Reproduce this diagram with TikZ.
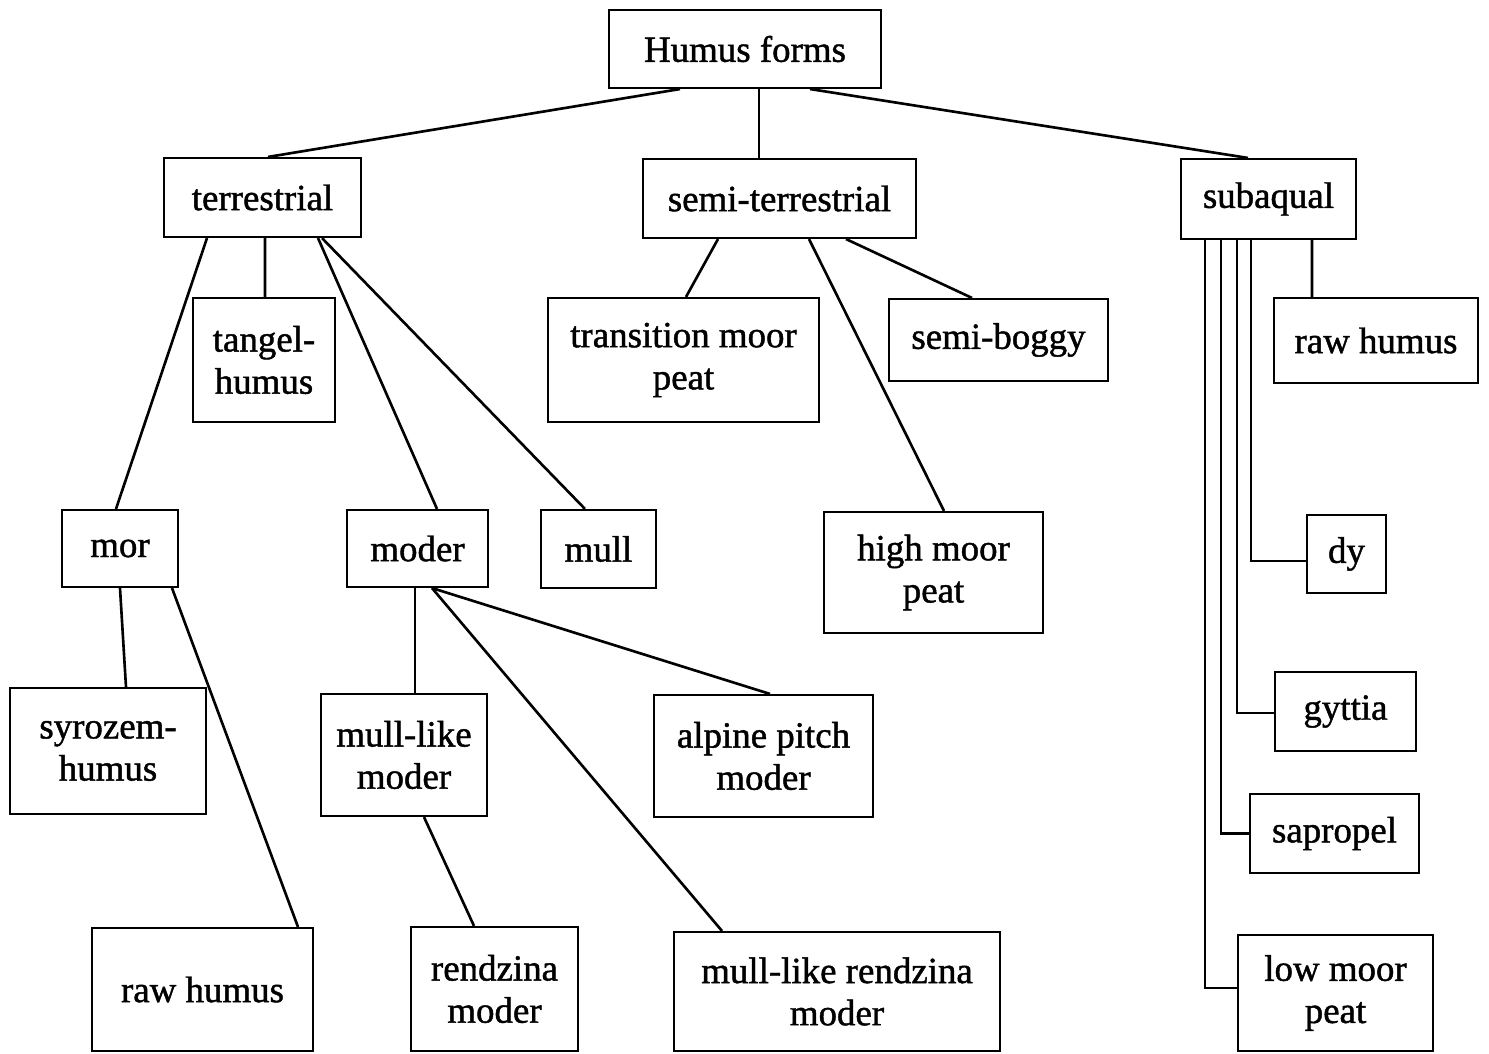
\documentclass[tikz,border=0pt]{standalone}
\usepackage{fontspec}
\setmainfont{Liberation Serif}[BoldFont=Liberation Serif, BoldFeatures={FakeBold=1.2}]
\usetikzlibrary{calc}
\begin{document}
\begin{tikzpicture}[x=0.02cm,y=-0.02cm,
  cell/.style args={#1/#2}{draw, line width=1.2pt, inner sep=0pt, align=center,
    minimum width=#1*0.02cm, minimum height=#2*0.02cm,
    font=\fontsize{21}{24}\selectfont\bfseries},
  link/.style={line width=1.5pt}]
\useasboundingbox (0,0) rectangle (1489,1054);

% level 0
\node[cell=272/78] (top) at (745,49) {Humus forms};
% level 1
\node[cell=197/79] (terr) at (262.5,197.5) {terrestrial};
\node[cell=273/79] (semi) at (779.5,198.5) {semi-terrestrial};
\node[cell=175/80] (sub) at (1268.5,199) {subaqual};
% level 2
\node[cell=142/124] (tangel) at (264,360) {tangel-\\humus};
\node[cell=271/124] (trans) at (683.5,360) {transition moor\\peat};
\node[cell=219/82] (boggy) at (998.5,340) {semi-boggy};
\node[cell=204/85] (rawR) at (1376,340.5) {raw humus};
% level 3
\node[cell=116/77] (mor) at (120,548.5) {mor};
\node[cell=141/77] (moder) at (417.5,548.5) {moder};
\node[cell=115/78] (mull) at (598.5,549) {mull};
\node[cell=219/121] (high) at (933.5,572.5) {high moor\\peat};
\node[cell=79/78] (dy) at (1346.5,554) {dy};
% level 4
\node[cell=196/126] (syro) at (108,751) {syrozem-\\humus};
\node[cell=166/122] (mlmoder) at (404,755) {mull-like\\moder};
\node[cell=219/122] (alpine) at (763.5,756) {alpine pitch\\moder};
\node[cell=141/79] (gyttia) at (1345.5,711.5) {gyttia};
\node[cell=169/79] (sapro) at (1334.5,833.5) {sapropel};
% level 5
\node[cell=221/123] (rawL) at (202.5,989.5) {raw humus};
\node[cell=167/124] (rendz) at (494.5,989) {rendzina\\moder};
\node[cell=326/119] (mlrendz) at (837,991.5) {mull-like rendzina\\moder};
\node[cell=195/116] (lowmoor) at (1335.5,993) {low moor\\peat};

% root branches
\draw[link] ($(top.south)+(-65,0)$) -- ($(terr.north)+(5.5,0)$);
\draw[link] ($(top.south)+(14,0)$) -- ($(semi.north)+(-20.5,0)$);
\draw[link] ($(top.south)+(65,0)$) -- ($(sub.north)+(-20.5,0)$);

% terrestrial branches
\draw[link] ($(terr.south)+(-55.5,0)$) -- ($(mor.north)+(-4,0)$);
\draw[link] ($(terr.south)+(2.5,0)$) -- ($(tangel.north)+(1,0)$);
\draw[link] ($(terr.south)+(55.5,0)$) -- ($(moder.north)+(19.5,0)$);
\draw[link] ($(terr.south)+(59.5,0)$) -- ($(mull.north)+(-13.5,0)$);

% semi-terrestrial branches
\draw[link] ($(semi.south)+(-61.5,0)$) -- ($(trans.north)+(2.5,0)$);
\draw[link] ($(semi.south)+(29.5,0)$) -- ($(high.north)+(10.5,0)$);
\draw[link] ($(semi.south)+(66.5,0)$) -- ($(boggy.north)+(-26.5,0)$);

% subaqual branches
\draw[link] ($(sub.south)+(43.5,0)$) -- ($(rawR.north)+(-64,0)$);
\draw[link] ($(sub.south)+(-17.5,0)$) |- ($(dy.west)+(0,7)$);
\draw[link] ($(sub.south)+(-31.5,0)$) |- ($(gyttia.west)+(0,1.5)$);
\draw[link] ($(sub.south)+(-47.5,0)$) |- (sapro.west);
\draw[link] ($(sub.south)+(-63.5,0)$) |- ($(lowmoor.west)+(0,-5)$);

% mor branches
\draw[link] (mor.south) -- ($(syro.north)+(18,0)$);
\draw[link] ($(mor.south)+(52,0)$) -- ($(rawL.north)+(95.5,0)$);

% moder branches
\draw[link] ($(moder.south)+(-2.5,0)$) -- ($(mlmoder.north)+(11,0)$);
\draw[link] ($(moder.south)+(14.5,0)$) -- ($(alpine.north)+(6.5,0)$);
\draw[link] ($(moder.south)+(14.5,0)$) -- ($(mlrendz.north)+(-115,0)$);
\draw[link] ($(mlmoder.south)+(20,0)$) -- ($(rendz.north)+(-20.5,0)$);
\end{tikzpicture}
\end{document}
